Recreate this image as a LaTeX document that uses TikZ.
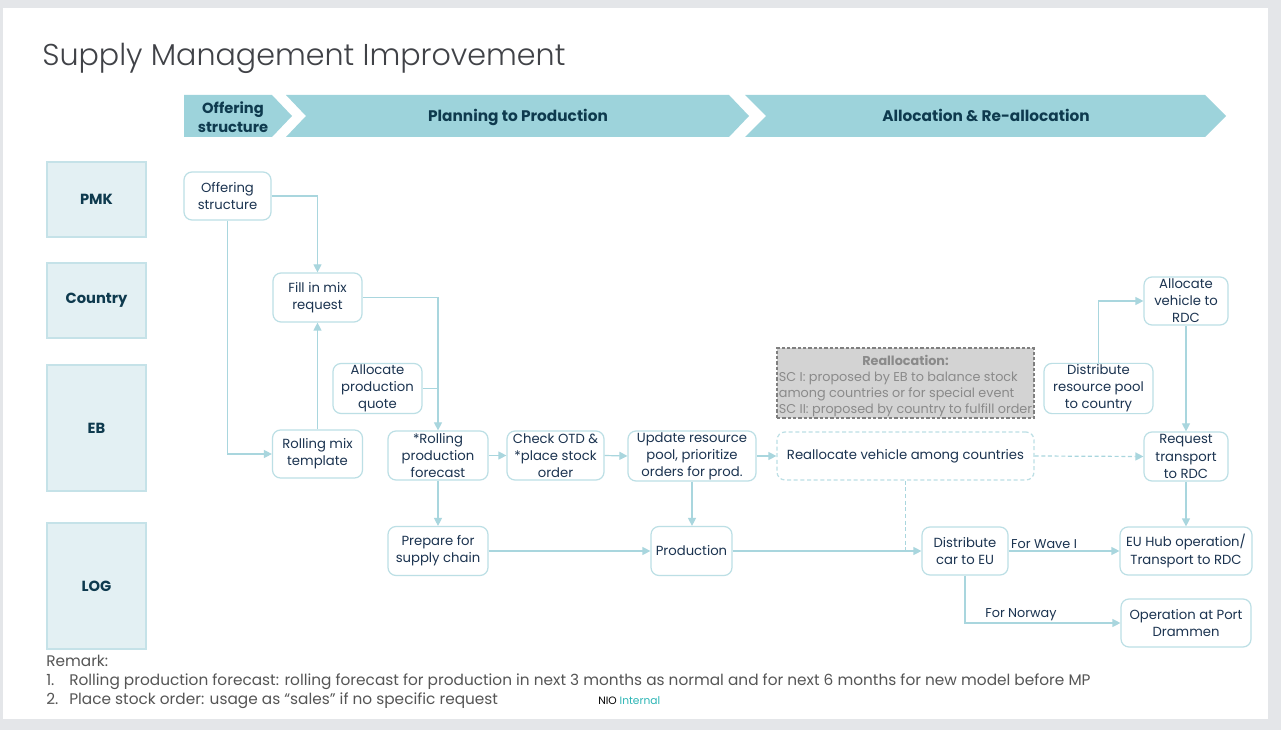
\documentclass[tikz,border=0pt]{standalone}
\usepackage{fontspec}
\setmainfont{Poppins}
\newfontfamily\titlefont{Poppins Light}
\usetikzlibrary{arrows.meta}

\definecolor{pagebg}{HTML}{E4E6E9}
\definecolor{chevfill}{HTML}{9DD3DB}
\definecolor{chevtext}{HTML}{0E3A4E}
\definecolor{lanefill}{HTML}{E3F0F3}
\definecolor{laneline}{HTML}{C5E2E8}
\definecolor{nodeline}{HTML}{BCDFE5}
\definecolor{nodetext}{HTML}{1B3350}
\definecolor{arrowc}{HTML}{A9D6DE}
\definecolor{grayfill}{HTML}{D3D3D3}
\definecolor{grayline}{HTML}{7F7F7F}
\definecolor{graytext}{HTML}{8A8A8A}
\definecolor{titlec}{HTML}{404247}
\definecolor{remarkc}{HTML}{555555}
\definecolor{nioteal}{HTML}{2BB5B5}

\begin{document}
\begin{tikzpicture}[x=0.75pt,y=-0.75pt,
  bx/.style 2 args={minimum width=#1*0.75pt, minimum height=#2*0.75pt},
  flow/.style={draw=nodeline, line width=0.9pt, rounded corners=6pt, fill=white,
    align=center, text=nodetext, inner sep=1pt,
    font=\fontsize{9.9}{12.8}\selectfont},
  dflow/.style={flow, dash pattern=on 3pt off 2pt},
  lane/.style={draw=laneline, line width=0.8pt, fill=lanefill, text=chevtext,
    font=\fontsize{11}{13}\selectfont\bfseries, minimum width=99*0.75pt},
  chev/.style={fill=chevfill},
  chevlabel/.style={text=chevtext, align=center,
    font=\fontsize{11.5}{14.25}\selectfont\bfseries, inner sep=0pt},
  link/.style={draw=arrowc, line width=0.9pt, -{Triangle[length=6pt,width=6pt]}},
  plain/.style={draw=arrowc, line width=0.9pt},
  dlink/.style={link, dash pattern=on 3pt off 2pt},
  dplain/.style={plain, dash pattern=on 3pt off 2pt},
  edgelabel/.style={text=nodetext, font=\fontsize{9.6}{11}\selectfont, inner sep=1pt},
  remark/.style={text=remarkc, font=\fontsize{11.5}{13}\selectfont, inner sep=0pt, anchor=base west}
]
\useasboundingbox (0,0) rectangle (1281,730);

% page and slide
\fill[pagebg] (0,0) rectangle (1281,730);
\fill[white] (3,8) rectangle (1268,719);

% title
\node[anchor=base west, inner sep=0pt, text=titlec,
  font=\titlefont\fontsize{22.6}{27}\selectfont] (title) at (42,66) {Supply Management Improvement};

% process phases
\fill[chev] (184,95) -- (272,95) -- (292,116) -- (272,137) -- (184,137) -- cycle;
\fill[chev] (286,95) -- (729,95) -- (749,116) -- (729,137) -- (286,137) -- (306,116) -- cycle;
\fill[chev] (745,95) -- (1205,95) -- (1226,116) -- (1205,137) -- (745,137) -- (766,116) -- cycle;
\node[chevlabel, font=\fontsize{11}{14.25}\selectfont\bfseries] (ph1) at (233,117) {Offering\\structure};
\node[chevlabel, anchor=base] (ph2) at (518,121.5) {Planning to Production};
\node[chevlabel, anchor=base] (ph3) at (986,121.5) {Allocation \& Re-allocation};

% swim lanes
\node[lane, minimum height=75*0.75pt]  (pmk)     at (96.5,199.5) {PMK};
\node[lane, minimum height=75*0.75pt]  (country) at (96.5,300.5) {Country};
\node[lane, minimum height=126*0.75pt] (eb)      at (96.5,428)   {EB};
\node[lane, minimum height=126*0.75pt] (log)     at (96.5,586)   {LOG};

% steps
\node[flow, bx={87}{48}]  (off)  at (227.5,196)  {Offering\\structure};
\node[flow, bx={89}{49}]  (fill) at (317.5,297.5) {Fill in mix\\request};
\node[flow, bx={90}{48}]  (rmt)  at (317.5,454)  {Rolling mix\\template};
\node[flow, bx={89}{49}]  (apq)  at (377.5,388.5) {Allocate\\production\\quote};
\node[flow, bx={100}{49}] (rpf)  at (438,455.5)  {*Rolling\\production\\forecast};
\node[flow, bx={97}{49}]  (otd)  at (555.5,455.5) {Check OTD \&\\*place stock\\order};
\node[flow, bx={128}{48}] (upd)  at (692,456)    {Update resource\\pool, prioritize\\orders for prod.};
\node[dflow, bx={257}{48}] (rea) at (905.5,456)  {Reallocate vehicle among countries};
\node[flow, bx={84}{48}]  (avr)  at (1186,301)   {Allocate\\vehicle to\\RDC};
\node[flow, bx={109}{49}] (drp)  at (1098.5,388.5) {Distribute\\resource pool\\to country};
\node[flow, bx={84}{49}]  (rtr)  at (1186,456.5) {Request\\transport\\to RDC};
\node[flow, bx={100}{49}] (psc)  at (438,551)    {Prepare for\\supply chain};
\node[flow, bx={81}{49}]  (prod) at (691.5,551)  {Production};
\node[flow, bx={86}{48}]  (dce)  at (965,551)    {Distribute\\car to EU};
\node[flow, bx={132}{48}] (euh)  at (1186,551)   {EU Hub operation/\\Transport to RDC};
\node[flow, bx={130}{48}] (opd)  at (1186,623)   {Operation at Port\\Drammen};

% reallocation note
\node[draw=grayline, fill=grayfill, line width=0.8pt, dash pattern=on 2.5pt off 1.5pt,
  bx={257}{70}, inner sep=0pt] (note) at (905.5,383) {};
\node[inner sep=0pt, text=graytext, font=\fontsize{9.6}{12}\selectfont] (notetext) at (905.5,386)
  {\begin{tabular}{@{}l@{}}\multicolumn{1}{@{}c@{}}{\bfseries Reallocation:}\\
   SC I: proposed by EB to balance stock\\
   among countries or for special event\\
   SC II: proposed by country to fulfill order\end{tabular}};

% connectors
\draw[link] (off.east) -| (fill.north);
\draw[link] (off.south) |- (rmt.west);
\draw[link] (rmt.north) -- (fill.south);
\draw[link] (fill.east) -| (rpf.north);
\draw[plain] (apq.east) -- (apq.east -| rpf.north);
\draw[link] (rpf.east) -- (otd.west);
\draw[link] (otd.east) -- (upd.west);
\draw[link] (upd.east) -- (rea.west);
\draw[link] (rpf.south) -- (psc.north);
\draw[link] (upd.south) -- (upd.south |- prod.north);
\draw[link] (psc.east) -- (prod.west);
\draw[link] (prod.east) -- (dce.west);
\draw[link] (dce.east) -- node[edgelabel, above, pos=0.32] {For Wave I} (euh.west);
\draw[link] (dce.south) |- node[edgelabel, above, pos=0.68] {For Norway} (opd.west);
\draw[dplain] (rea.south) -- (rea.south |- dce.west);
\draw[dlink] (rea.east) -- (rtr.west);
\draw[link] (drp.north) |- (avr.west);
\draw[link] (avr.south) -- (rtr.north);
\draw[link] (rtr.south) -- (euh.north);

% remarks
\node[remark] (rm0) at (46,666) {Remark:};
\node[remark] (rm1n) at (46,685) {1.};
\node[remark] (rm1) at (69,685) {Rolling production forecast: rolling forecast for production in next 3 months as normal and for next 6 months for new model before MP};
\node[remark] (rm2n) at (46,704) {2.};
\node[remark] (rm2) at (69,704) {Place stock order: usage as “sales” if no specific request};
\node[anchor=base west, inner sep=0pt, font=\fontsize{8}{9}\selectfont] (nio) at (598,704)
  {\textcolor{black}{NIO} \textcolor{nioteal}{Internal}};
\end{tikzpicture}
\end{document}
